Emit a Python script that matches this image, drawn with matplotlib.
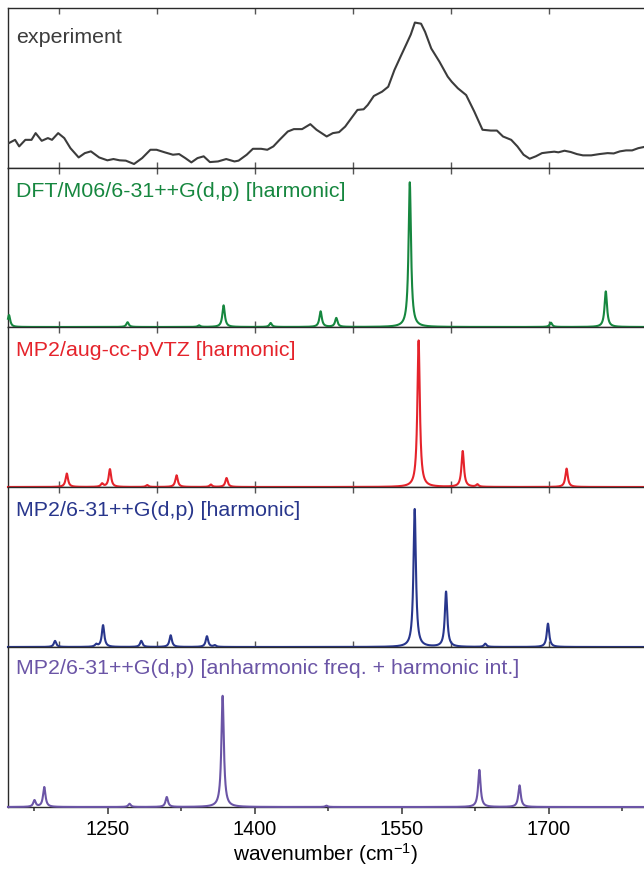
import numpy as np
import matplotlib
matplotlib.use("Agg")
import matplotlib.pyplot as plt
from matplotlib.ticker import FixedLocator, NullLocator

plt.rcParams["font.family"] = ["Liberation Sans", "DejaVu Sans"]
plt.rcParams["mathtext.fontset"] = "custom"
plt.rcParams["mathtext.rm"] = "Liberation Sans"
plt.rcParams["mathtext.it"] = "Liberation Sans:italic"

# ---- experimental IR spectrum (relative intensity) ----
exp_wn = [1149.0, 1155.2, 1159.4, 1165.7, 1172.0, 1176.2, 1182.4, 1188.7, 1192.9, 1199.2,
          1205.4, 1211.7, 1220.1, 1226.4, 1232.6, 1241.0, 1249.4, 1255.6, 1261.9, 1268.2,
          1276.6, 1284.9, 1293.3, 1299.6, 1307.9, 1316.3, 1322.6, 1328.9, 1335.1, 1341.4,
          1347.7, 1354.0, 1362.3, 1370.7, 1379.1, 1383.3, 1391.6, 1397.9, 1406.3, 1412.6,
          1418.8, 1425.1, 1433.5, 1439.7, 1448.1, 1456.5, 1462.8, 1473.2, 1479.5, 1485.8,
          1492.1, 1498.3, 1504.6, 1510.9, 1515.1, 1521.3, 1529.7, 1536.0, 1542.3, 1548.5,
          1554.8, 1559.0, 1563.2, 1569.5, 1573.6, 1579.9, 1588.3, 1596.7, 1600.8, 1607.1,
          1615.5, 1623.8, 1632.2, 1640.6, 1646.9, 1653.1, 1661.5, 1667.8, 1674.1, 1680.3,
          1686.6, 1692.9, 1699.2, 1705.4, 1709.6, 1715.9, 1722.2, 1728.5, 1734.7, 1743.1,
          1751.5, 1759.8, 1766.1, 1772.4, 1778.7, 1784.9, 1791.2, 1796.7]
exp_int = [0.156, 0.176, 0.135, 0.176, 0.176, 0.218, 0.170, 0.187, 0.176, 0.218,
           0.187, 0.124, 0.066, 0.093, 0.104, 0.066, 0.048, 0.056, 0.048, 0.046,
           0.025, 0.062, 0.114, 0.114, 0.098, 0.083, 0.087, 0.062, 0.035, 0.062,
           0.073, 0.037, 0.041, 0.056, 0.041, 0.046, 0.083, 0.120, 0.120, 0.114,
           0.135, 0.176, 0.228, 0.243, 0.243, 0.274, 0.239, 0.197, 0.218, 0.224,
           0.259, 0.311, 0.363, 0.367, 0.394, 0.450, 0.477, 0.508, 0.612, 0.695,
           0.778, 0.834, 0.909, 0.902, 0.851, 0.747, 0.664, 0.571, 0.539, 0.498,
           0.456, 0.353, 0.239, 0.234, 0.234, 0.197, 0.176, 0.135, 0.083, 0.058,
           0.073, 0.093, 0.098, 0.102, 0.098, 0.108, 0.100, 0.087, 0.079, 0.079,
           0.087, 0.093, 0.091, 0.104, 0.110, 0.110, 0.124, 0.131]

# ---- computed line positions (cm-1) and relative intensities ----
dft_freq = [1149, 1270, 1343, 1368, 1416, 1467, 1483, 1558, 1702, 1758]
dft_int = [0.075, 0.030, 0.010, 0.136, 0.025, 0.098, 0.056, 0.910, 0.027, 0.224]

mp2tz_freq = [1208, 1244, 1252, 1290, 1320, 1355, 1371, 1567, 1612, 1627, 1718]
mp2tz_int = [0.084, 0.020, 0.111, 0.012, 0.073, 0.015, 0.056, 0.916, 0.224, 0.015, 0.115]

mp2dz_freq = [1196, 1238, 1245, 1284, 1314, 1351, 1359, 1563, 1595, 1635, 1699]
mp2dz_int = [0.038, 0.015, 0.136, 0.038, 0.073, 0.067, 0.010, 0.862, 0.345, 0.020, 0.146]

anh_freq = [1175, 1185, 1272, 1310, 1367, 1473, 1629, 1670]
anh_int = [0.041, 0.124, 0.020, 0.062, 0.695, 0.008, 0.232, 0.135]

panel_labels = ["experiment",
                "DFT/M06/6-31++G(d,p) [harmonic]",
                "MP2/aug-cc-pVTZ [harmonic]",
                "MP2/6-31++G(d,p) [harmonic]",
                "MP2/6-31++G(d,p) [anharmonic freq. + harmonic int.]"]
panel_colors = ["#3c3c3c", "#16873f", "#e5232b", "#28368c", "#6b55a6"]
label_y = [0.82, 0.86, 0.86, 0.86, 0.875]

inner_ticks = [1200, 1300, 1400, 1500, 1600, 1700]
bottom_ticks = [1250, 1400, 1550, 1700]
bottom_minor = [1175, 1325, 1475, 1625, 1775]
x_min, x_max = 1148, 1797


def lorentz_sum(grid, centers, heights, hwhm=1.5):
    out = np.zeros_like(grid)
    for c, h in zip(centers, heights):
        out += h * hwhm ** 2 / ((grid - c) ** 2 + hwhm ** 2)
    return out


grid = np.linspace(x_min, x_max, 13000)
calc = [(dft_freq, dft_int), (mp2tz_freq, mp2tz_int),
        (mp2dz_freq, mp2dz_int), (anh_freq, anh_int)]

W, H = 644, 870
edges = [9, 169, 328, 488, 648, 808]
left = 8

fig = plt.figure(figsize=(W / 100, H / 100), dpi=100)
for i in range(5):
    y0, y1 = edges[i], edges[i + 1]
    ax = fig.add_axes([left / W, 1 - y1 / H, 1 - left / W, (y1 - y0) / H])
    ax.set_xlim(x_min, x_max)
    ax.set_ylim(0, 1.0)
    ax.set_yticks([])
    for s in ["top", "bottom", "left"]:
        ax.spines[s].set_color("#2a2a2a")
        ax.spines[s].set_linewidth(1.0)
    ax.spines["right"].set_visible(False)
    color = panel_colors[i]
    if i == 0:
        ax.plot(exp_wn, exp_int, color=color, lw=1.5, zorder=3)
    else:
        freq, inten = calc[i - 1]
        ax.plot(grid, lorentz_sum(grid, freq, inten), color=color, lw=1.5,
                zorder=3, clip_on=False)
    ax.text(0.012, label_y[i], panel_labels[i], transform=ax.transAxes,
            color=color, fontsize=15.4, ha="left", va="center")
    if i < 4:
        ax.xaxis.set_major_locator(FixedLocator(inner_ticks))
        ax.xaxis.set_minor_locator(NullLocator())
        ax.tick_params(axis="x", which="major", direction="in", top=True,
                       bottom=True, length=4, width=1, color="#555555",
                       labelbottom=False)
    else:
        ax.xaxis.set_major_locator(FixedLocator(bottom_ticks))
        ax.xaxis.set_minor_locator(FixedLocator(bottom_minor))
        ax.tick_params(axis="x", which="major", direction="out", top=False,
                       length=5, width=1.2, color="#444444", labelsize=14.3,
                       pad=4)
        ax.tick_params(axis="x", which="minor", direction="out", top=False,
                       length=3, width=1.2, color="#444444")
        ax.set_xlabel("wavenumber (cm$^{-1}$)", fontsize=15, labelpad=1)

fig.savefig("out.png", dpi=100)
